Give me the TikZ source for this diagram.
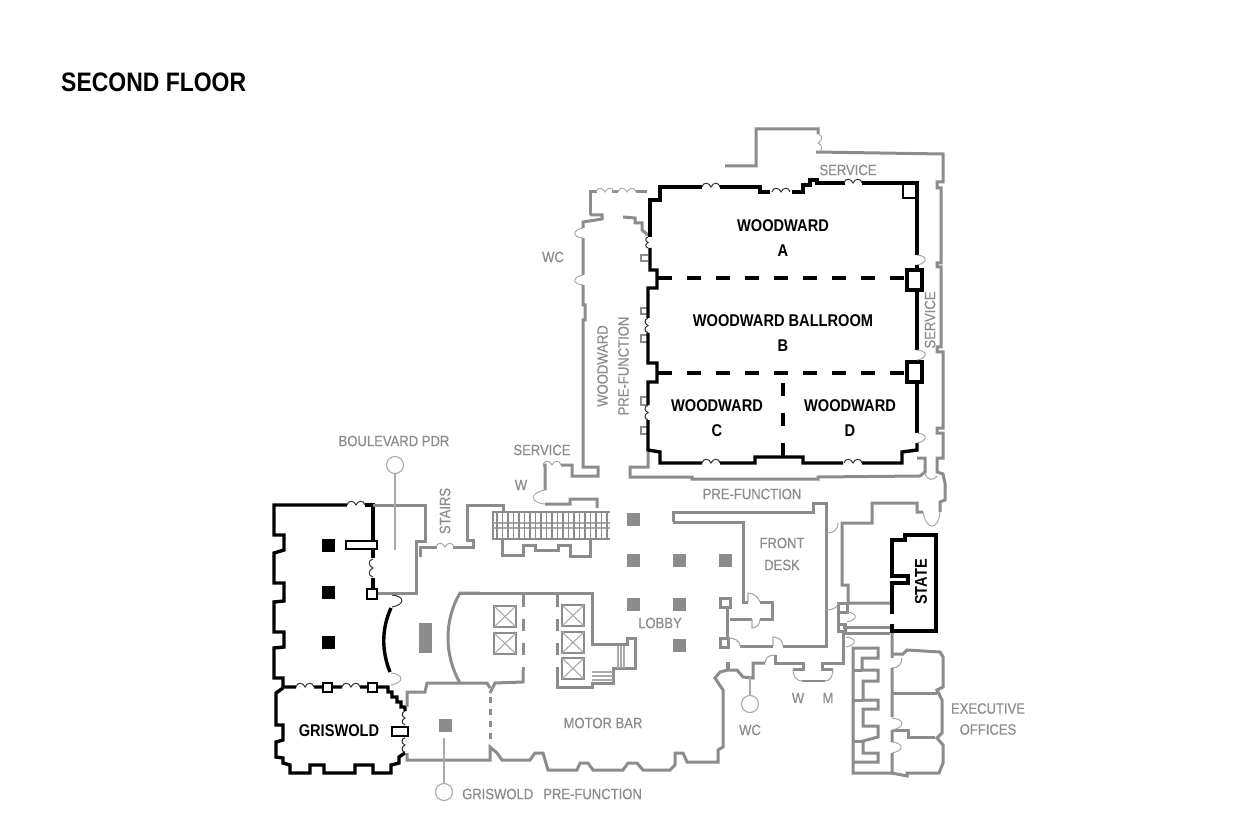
\documentclass[tikz,border=0pt]{standalone}
\usepackage{fontspec}
\setmainfont[FakeStretch=0.86]{Liberation Sans}
\newfontfamily\lblfont[FakeStretch=0.87,FakeBold=0.6]{Liberation Sans}
\definecolor{wallgray}{HTML}{8C8C8C}
\tikzset{
  graywall/.style={draw=wallgray,line width=3pt,line join=miter},
  blackwall/.style={draw=black,line width=3.4pt,line join=miter},
  thingray/.style={draw=wallgray!75,line width=1.1pt},
  thinblack/.style={draw=black!80,line width=1pt},
  partdash/.style={blackwall,dash pattern=on 14pt off 15pt},
  graydash/.style={graywall,dash pattern=on 6pt off 6pt},
  coredash/.style={graywall,dash pattern=on 12pt off 12pt},
  column/.style={fill=wallgray,draw=none,minimum size=13pt,inner sep=0pt},
  blackcolumn/.style={fill=black,draw=none,minimum size=13pt,inner sep=0pt},
  lift/.style={draw=wallgray,line width=1.6pt},
  roomlabel/.style={text=wallgray,font=\lblfont\fontsize{15}{18}\selectfont,align=center,inner sep=0pt},
  hall/.style={text=black,font=\fontsize{17}{25}\selectfont\bfseries,align=center,inner sep=0pt},
  marker/.style={circle,draw=wallgray!75,line width=1.1pt,minimum size=17pt,inner sep=0pt},
  dbldoor/.pic={
    \draw[pic actions,line width=1pt] (-9,0) .. controls (-8,-5) and (-2,-5) .. (0,0)
      .. controls (2,-5) and (8,-5) .. (9,0);},
  bump/.pic={
    \draw[pic actions,line width=1pt] (0,0) .. controls (1,-11) and (8,-11) .. (10,0);}
}
\begin{document}
\begin{tikzpicture}[x=1pt,y=-1pt]
  \useasboundingbox (0,0) rectangle (1251,826);
  \node[anchor=west,inner sep=0pt,font=\fontsize{26.7}{28}\selectfont\bfseries] (title) at (61,82) {SECOND FLOOR};

  % outer gray walls, top and right
  \draw[graywall] (725,166) -- (756,166) -- (756,129) -- (818,129) -- (818,134)
     (816,152) -- (943,154) -- (943,182) -- (937,182) -- (937,188) -- (941,188) -- (941,263)
     -- (937,263) -- (937,267) -- (941,267) -- (941,347) -- (937,347) -- (937,352) -- (943,352)
     -- (943,428) -- (937,428) -- (937,433) -- (943,433) -- (943,458) -- (937,458) -- (937,472) -- (943,474)
     -- (945,483) -- (945,500) -- (940,502) -- (940,512) (923,512) -- (917,512) -- (917,503) -- (872,503)
     -- (872,523) -- (842,523) -- (842,585) -- (848,585) -- (848,603) -- (890,603);
  \draw[graywall] (843,627) -- (890,627) (843,633) -- (890,633);

  % woodward pre-function
  \draw[graywall] (590,215) -- (590,192) -- (597,192) (612,192) -- (618,192) (636,192) -- (647,192);
  \draw[graywall] (590,215) -- (602,215) -- (602,219) -- (583,222) -- (583,228) (583,238) -- (583,275)
     (583,285) -- (583,305) -- (585,305) -- (585,320) -- (583,320) -- (583,467) -- (598,467) -- (598,476)
     -- (572,476) -- (572,465) -- (561,465) (543,465) -- (545,465) -- (545,490) (545,504) -- (570,504)
     -- (570,499) -- (597,499) -- (597,508);
  \draw[graywall] (623,217) -- (635,218) -- (635,223) -- (642,223) -- (642,230) -- (648,235);
  \draw[graywall] (648,452) -- (648,467) -- (630,467) -- (630,477) -- (692,477) -- (692,479) -- (818,479)
     -- (818,477) -- (920,476) -- (925,472) -- (925,458) -- (917,458);
  \foreach \y/\h in {255/6,308/6,335/7,397/8,427/7}
    \draw[graywall,line width=2pt] (648,\y) -- (641,\y) -- (641,\y+\h) -- (648,\y+\h);

  % woodward ballroom
  \draw[blackwall] (650,237) -- (650,200) -- (660,200) -- (660,187) -- (702,187)
     (720,187) -- (760,187) -- (760,192) -- (770,192) (792,192) -- (803,192) -- (803,185) -- (810,185)
     -- (810,180) -- (817,180) -- (817,183) -- (845,183) (862,183) -- (917,183) -- (917,255)
     (917,265) -- (917,270);
  \draw[blackwall] (650,248) -- (650,270) -- (657,270) -- (657,288) -- (648,288) -- (648,318)
     (648,333) -- (648,363) -- (657,363) -- (657,382) -- (648,382) -- (648,405)
     (648,420) -- (648,450) -- (660,452) -- (660,463) -- (702,463) (720,463) -- (755,463) -- (755,457)
     -- (803,457) -- (803,463) -- (843,463) (862,463) -- (902,463) -- (902,452) -- (917,450) -- (917,443);
  \draw[blackwall] (917,290) -- (917,350) (917,360) -- (917,362) (917,382) -- (917,433);
  \draw[blackwall,line width=2.6pt] (903,183) rectangle (917,198);
  \draw[blackwall] (907,270) rectangle (922,290) (907,362) rectangle (922,382);
  \draw[partdash] (658,278) -- (907,278);
  \draw[partdash] (658,373) -- (907,373);
  \draw[blackwall,dash pattern=on 13pt off 17pt] (783,383) -- (783,457);

  % boulevard and griswold rooms
  \draw[blackwall] (347,505) -- (274,505) -- (274,535) -- (284,535) -- (284,550) -- (274,553) -- (274,583)
     -- (284,583) -- (284,601) -- (274,602) -- (274,632) -- (284,632) -- (284,647) -- (274,648)
     -- (274,678) -- (283,678) -- (283,687);
  \draw[blackwall] (365,505) -- (373,505) -- (373,541) (373,549) -- (373,558) (373,578) -- (373,589);
  \draw[blackwall,line width=2.4pt] (346,541) rectangle (377,549) (367,589) rectangle (377,599)
     (323,683) rectangle (332,692) (368,683) rectangle (377,692) (392,727) rectangle (408,736);
  \draw[blackwall] (283,687) -- (296,687) (314,687) -- (323,687) (332,687) -- (342,687) (360,687) -- (368,687)
     (377,687) -- (388,687) -- (388,692) -- (392,692) -- (392,697) -- (397,697) -- (397,702) -- (401,702)
     -- (401,707) -- (405,707) -- (405,711)
     (405,753) -- (399,757) -- (399,763) -- (391,765) -- (391,773) -- (373,773) -- (373,765) -- (355,765)
     -- (355,773) -- (324,773) -- (324,765) -- (310,765) -- (310,773) -- (290,773) -- (290,765) -- (283,763)
     -- (283,758) -- (276,757) -- (276,742) -- (283,740) -- (283,725) -- (276,725) -- (276,693) -- (283,688);
  \draw[blackwall] (391,608) .. controls (381,630) and (382,652) .. (390,672);

  % state
  \draw[blackwall] (892,614) -- (892,583) -- (908,583) -- (908,576) -- (892,576) -- (892,540) -- (905,540)
     -- (905,535) -- (936,535) -- (936,631) -- (892,631) -- (892,624);

  % boulevard foyer, stairs
  \draw[graywall] (373,505) -- (425,505) -- (425,541) -- (416,541) -- (416,593) -- (378,593);
  \draw[graywall] (420,557) -- (420,547) -- (437,547) (453,547) -- (473,547) -- (473,540) -- (467,540)
     -- (467,505) -- (503,505) -- (503,512);
  \draw[graywall] (480,593) -- (460,593) .. controls (444,620) and (444,655) .. (460,683);
  \draw[graywall] (407,707) -- (407,692) -- (425,692) -- (427,683) -- (487,683) -- (490,688);
  \draw[graywall] (407,753) -- (407,760) -- (490,760) -- (490,747) -- (497,753) -- (502,760) -- (530,760)
     -- (535,753) -- (543,753) -- (548,770) -- (577,770) -- (580,763) -- (588,763) -- (593,770)
     -- (623,770) -- (628,763) -- (637,763) -- (643,770) -- (670,770) -- (675,765) -- (675,753)
     -- (683,753) -- (687,762) -- (718,762) -- (718,750) -- (723,747) -- (723,690) -- (715,678) -- (720,672)
     -- (728,670) -- (737,670) -- (743,677) -- (753,678) -- (753,663) -- (765,663);
  \draw[graywall,line width=4pt] (728,670) -- (728,662);
  \draw[graydash] (490,697) -- (490,745);
  \draw[graywall] (490,693) -- (495,683) -- (523,682) -- (523,670);

  % lifts and core
  \draw[graywall] (460,593) -- (592,593) -- (592,644) -- (627,644) -- (627,638) -- (635,638) -- (635,668)
     -- (613,668) -- (613,683) -- (592,683) -- (592,687) -- (557,687) -- (557,670);
  \draw[coredash] (523,595) -- (523,670);
  \draw[coredash] (557,595) -- (557,670);
  \foreach \x/\y/\w in {494/606/22,494/633/22,562/605/22,562/632/22,562/658/22} {
    \draw[lift] (\x,\y) rectangle ++(\w,21);
    \draw[thingray] (\x,\y) -- ++(\w,21) (\x+\w,\y) -- ++(-\w,21);
  }
  \foreach \x in {618,621,624}
    \draw[thingray,line width=1.4pt] (\x,646) -- (\x,668);
  \foreach \y in {672,676,680}
    \draw[thingray,line width=1.4pt] (592,\y) -- (613,\y);

  % escalator
  \draw[graywall,line width=2.4pt] (610,512) -- (493,512) -- (493,539) -- (610,539);
  \draw[thingray,line width=2.2pt] (493,523) -- (610,523) (493,528) -- (610,528);
  \foreach \x in {0,1,...,20}
    \draw[graywall,line width=1.8pt] (497+\x*5.5,513) -- (497+\x*5.5,538);
  \draw[graywall] (502,539) -- (502,555) -- (523,555) -- (523,545) -- (535,545) -- (535,550) -- (558,550)
     -- (558,545) -- (570,545) -- (570,556) -- (590,556) -- (590,540);

  % front desk
  \draw[graywall] (673,522) -- (673,512) -- (813,512) -- (813,503) -- (826,503) -- (826,646) -- (783,646)
     (773,646) -- (740,646);
  \draw[graywall] (720,638) rectangle (728,647);
  \draw[graywall] (673,522) -- (743,522) -- (743,602) -- (748,602) (760,602) -- (772,602) -- (772,619)
     -- (760,619) (752,619) -- (730,619);
  \draw[graywall] (720,598) rectangle (730,607);
  \draw[graywall] (727,607) -- (727,638);
  \draw[graywall] (838,603) rectangle (847,612) (838,624) rectangle (845,631);
  \draw[graywall] (838,612) -- (838,624) (843,631) -- (843,663) -- (822,663) -- (822,669) -- (833,669);
  \draw[graywall] (793,669) -- (803,669) -- (803,663) -- (775,663) -- (775,655);
  \draw[graywall,line width=2pt] (802,681) -- (825,681);
  \draw[thingray] (748,602) -- (748,593) .. controls (754,593) and (758,597) .. (760,602)
     (752,619) -- (752,628) .. controls (757,628) and (760,624) .. (760,619)
     (728,638) .. controls (735,638) and (740,641) .. (740,646)
     (773,646) -- (773,637) .. controls (779,637) and (783,641) .. (783,646)
     (827,533) .. controls (833,533) and (838,530) .. (838,523)
     (827,610) .. controls (833,610) and (838,607) .. (838,603)
     (765,663) .. controls (765,659) and (768,655) .. (775,655)
     (793,669) .. controls (793,677) and (797,681) .. (802,681)
     (833,669) .. controls (833,676) and (830,681) .. (825,681)
     (892,668) .. controls (898,668) and (902,664) .. (902,658)
     (925,473) .. controls (927,481) and (934,481) .. (937,476);

  % executive offices
  \draw[graywall] (892,633) -- (892,658) (892,668) -- (892,717) (892,730) -- (892,742) (892,753) -- (892,773)
     -- (853,773) -- (853,648) -- (878,648) -- (878,658) -- (862,658) -- (862,670) -- (878,670) -- (878,681)
     -- (863,681) -- (863,700) -- (878,700) -- (878,709) -- (863,709) -- (863,726) -- (878,726) -- (878,737)
     -- (863,741) -- (863,753) -- (878,753) -- (878,762) -- (853,762);
  \draw[graywall] (853,670) -- (862,670) (853,700) -- (863,700) (853,741) -- (863,741);
  \draw[graywall] (892,654) -- (903,654) -- (907,650) -- (940,652) -- (943,657) -- (943,687) -- (937,690)
     -- (942,700) -- (942,733) -- (937,738) -- (943,745) -- (943,763) -- (939,773) -- (907,773) -- (907,776) -- (892,773);
  \draw[graywall] (892,693) -- (937,693) (892,730) -- (908,730) -- (908,737) -- (935,737);

  % columns
  \foreach \x/\y [count=\n] in {633/519,633/560,679/560,725/560,633/604,679/604,679/645,445/725}
    \node[column] (col\n) at (\x,\y) {};
  \node[column,minimum width=13pt,minimum height=30pt] (colwide) at (425.5,638) {};
  \foreach \y [count=\n] in {545,592,642}
    \node[blackcolumn] (bcol\n) at (328,\y) {};

  % doors
  \foreach \x/\y in {711/187,781/192,853/183,711/463,853/463,305/687,351/687,356/505}
    \path (\x,\y) pic[thinblack] {dbldoor};
  \foreach \x/\y in {605/192,627/192,445/547,552/465}
    \path (\x,\y) pic[thingray] {dbldoor};
  \foreach \x/\y/\s in {373/568/1,405/718/.75,405/745/.8,648/325.5/.8,648/412.5/.8,648/242.5/.6}
    \path (\x,\y) pic[rotate=90,scale=\s,thinblack] {dbldoor};
  \path (818,143) pic[rotate=-90,thingray] {dbldoor};
  \path (583,238) pic[rotate=90,thingray] {bump};
  \path (583,285) pic[rotate=90,thingray] {bump};
  \path (545,504) pic[rotate=90,scale=1.4,thingray] {bump};
  \path (917,255) pic[rotate=-90,thingray] {bump};
  \path (917,350) pic[rotate=-90,thingray] {bump};
  \path (917,433) pic[rotate=-90,thingray] {bump};
  \path (392,595) pic[rotate=-90,scale=1.2,thinblack] {bump};
  \path (391,673) pic[rotate=-90,scale=1.2,thingray] {bump};
  \path (847,612) pic[rotate=-90,thingray] {bump};
  \path (846,637) pic[rotate=-90,thingray] {bump};
  \path (892,718) pic[rotate=-90,scale=1.2,thingray] {bump};
  \path (892,742) pic[rotate=-90,scale=1.1,thingray] {bump};
  \path (940,512) pic[rotate=180,scale=1.7,thingray] {bump};

  % markers
  \node[marker] (mbvd) at (395,465) {};
  \coordinate (bvdend) at (395,550);
  \draw[thingray] (mbvd) -- (bvdend);
  \node[marker] (mgris) at (444,792) {};
  \coordinate (grisend) at (444,738);
  \draw[thingray] (mgris) -- (grisend);
  \node[marker] (mwc) at (750,704) {};
  \coordinate (wcend) at (750,677);
  \draw[thingray] (mwc) -- (wcend);

  % labels
  \node[hall] (wooda) at (783,238) {WOODWARD\\A};
  \node[hall] (woodb) at (783,333) {WOODWARD BALLROOM\\B};
  \node[hall] (woodc) at (717,418) {WOODWARD\\C};
  \node[hall] (woodd) at (850,418) {WOODWARD\\D};
  \node[hall] (gris) at (339,731) {GRISWOLD};
  \node[hall,rotate=90] (state) at (921,582) {STATE};
  \node[roomlabel] (svcn) at (848,170) {SERVICE};
  \node[roomlabel,rotate=90] (svce) at (930,320) {SERVICE};
  \node[roomlabel] (wcn) at (553,257) {WC};
  \node[roomlabel,rotate=90] (wpf) at (613,366) {WOODWARD\\[3pt]PRE-FUNCTION};
  \node[roomlabel] (svcs) at (542,450) {SERVICE};
  \node[roomlabel] (wn) at (521,485) {W};
  \node[roomlabel] (pfn) at (752,494) {PRE-FUNCTION};
  \node[roomlabel] (bvd) at (394,441) {BOULEVARD PDR};
  \node[roomlabel,rotate=90] (stairs) at (445,511) {STAIRS};
  \node[roomlabel] (front) at (782,554) {FRONT\\[4pt]DESK};
  \node[roomlabel] (lobby) at (660,623) {LOBBY};
  \node[roomlabel] (motor) at (603,723) {MOTOR BAR};
  \node[roomlabel] (wcs) at (750,730) {WC};
  \node[roomlabel] (ws) at (798,698) {W};
  \node[roomlabel] (ms) at (828,698) {M};
  \node[roomlabel] (exec) at (988,719) {EXECUTIVE\\[3pt]OFFICES};
  \node[roomlabel,anchor=west] (gpf) at (462,794) {GRISWOLD\hspace{10pt}PRE-FUNCTION};
\end{tikzpicture}
\end{document}
